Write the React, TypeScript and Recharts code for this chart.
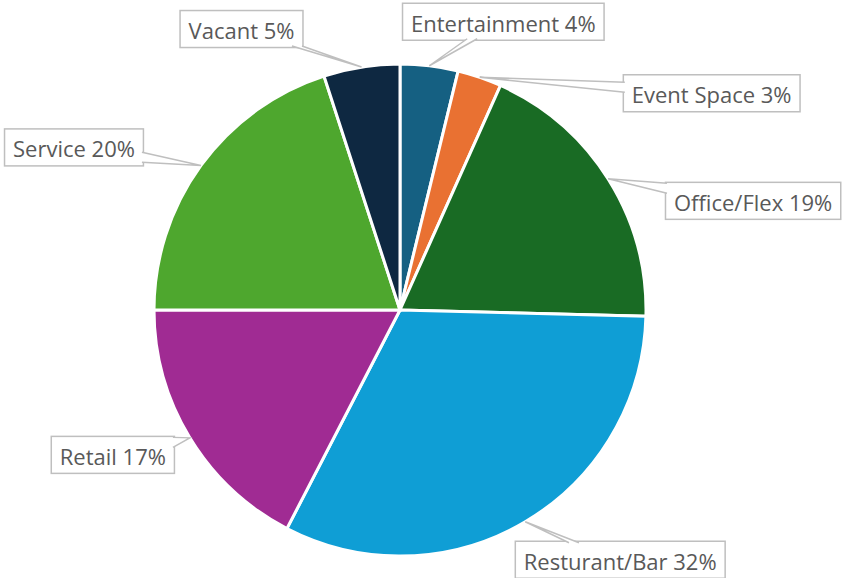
import React from 'react';
import { PieChart, Pie, Cell } from 'recharts';

const categories = ['Entertainment', 'Event Space', 'Office/Flex', 'Resturant/Bar', 'Retail', 'Service', 'Vacant'];
const shares = [3.8, 2.9, 18.7, 32.2, 17.4, 20.0, 5.0];
const colors = ['#156082', '#E97132', '#196B24', '#0F9ED5', '#A02B93', '#4EA72E', '#0E2841'];
// where each callout box sits, relative to the point it points at
const labelOffsets: [number, number][] = [[74, -44], [232, 16], [145, 22], [95, 38], [-77, 17], [-127, -18], [-120, -38]];

const data = categories.map((name, i) => ({ name, value: shares[i] }));
const total = shares.reduce((a, b) => a + b, 0);

const FONT = "'Open Sans', sans-serif";
const FONT_SIZE = 22;
const RADIAN = Math.PI / 180;

let ctx: CanvasRenderingContext2D | null = null;
const textWidth = (s: string) => {
  if (!ctx) ctx = document.createElement('canvas').getContext('2d');
  if (!ctx) return s.length * FONT_SIZE * 0.55;
  ctx.font = `${FONT_SIZE}px ${FONT}`;
  return ctx.measureText(s).width;
};

const renderLabel = (props: any) => {
  const { cx, cy, midAngle, outerRadius, index, value } = props;
  const ax = cx + outerRadius * Math.cos(-midAngle * RADIAN);
  const ay = cy + outerRadius * Math.sin(-midAngle * RADIAN);
  const [ox, oy] = labelOffsets[index];
  const bx = ax + ox;
  const by = ay + oy;
  const text = `${categories[index]} ${Math.round((value / total) * 100)}%`;
  const w = textWidth(text) + 17;
  const h = 37;

  // where the pointer meets the box
  const dx = ax - bx;
  const dy = ay - by;
  const tx = dx === 0 ? Infinity : (w / 2) / Math.abs(dx);
  const ty = dy === 0 ? Infinity : (h / 2) / Math.abs(dy);
  let b1: [number, number];
  let b2: [number, number];
  if (tx < ty) {
    const ex = bx + Math.sign(dx) * (w / 2 - 1.5);
    const py = Math.min(Math.max(by + dy * tx, by - h / 2 + 6), by + h / 2 - 6);
    b1 = [ex, py - 5];
    b2 = [ex, py + 5];
  } else {
    const ey = by + Math.sign(dy) * (h / 2 - 1.5);
    const px = Math.min(Math.max(bx + dx * ty, bx - w / 2 + 6), bx + w / 2 - 6);
    b1 = [px - 5, ey];
    b2 = [px + 5, ey];
  }

  return (
    <g key={`lbl-${index}`}>
      <rect x={bx - w / 2} y={by - h / 2} width={w} height={h} fill="#fff" stroke="#bfbfbf" strokeWidth={1.5} />
      <path d={`M${b1[0]},${b1[1]} L${ax},${ay} L${b2[0]},${b2[1]}`} fill="#fff" stroke="#bfbfbf" strokeWidth={1.5} />
      <text x={bx} y={by + 1} textAnchor="middle" dominantBaseline="central" fontFamily={FONT} fontSize={FONT_SIZE} fill="#595959">
        {text}
      </text>
    </g>
  );
};

export default function App() {
  return (
    <div style={{ position: 'absolute', left: 0, top: 0, width: 843, height: 578, background: '#fff' }}>
      <PieChart width={843} height={578} margin={{ top: 0, right: 0, bottom: 0, left: 0 }}>
        <Pie
          data={data}
          dataKey="value"
          nameKey="name"
          cx={400}
          cy={310}
          outerRadius={246}
          startAngle={90}
          endAngle={-270}
          stroke="#fff"
          strokeWidth={3}
          label={renderLabel}
          labelLine={false}
          isAnimationActive={false}
        >
          {data.map((d, i) => (
            <Cell key={d.name} fill={colors[i]} />
          ))}
        </Pie>
      </PieChart>
    </div>
  );
}
